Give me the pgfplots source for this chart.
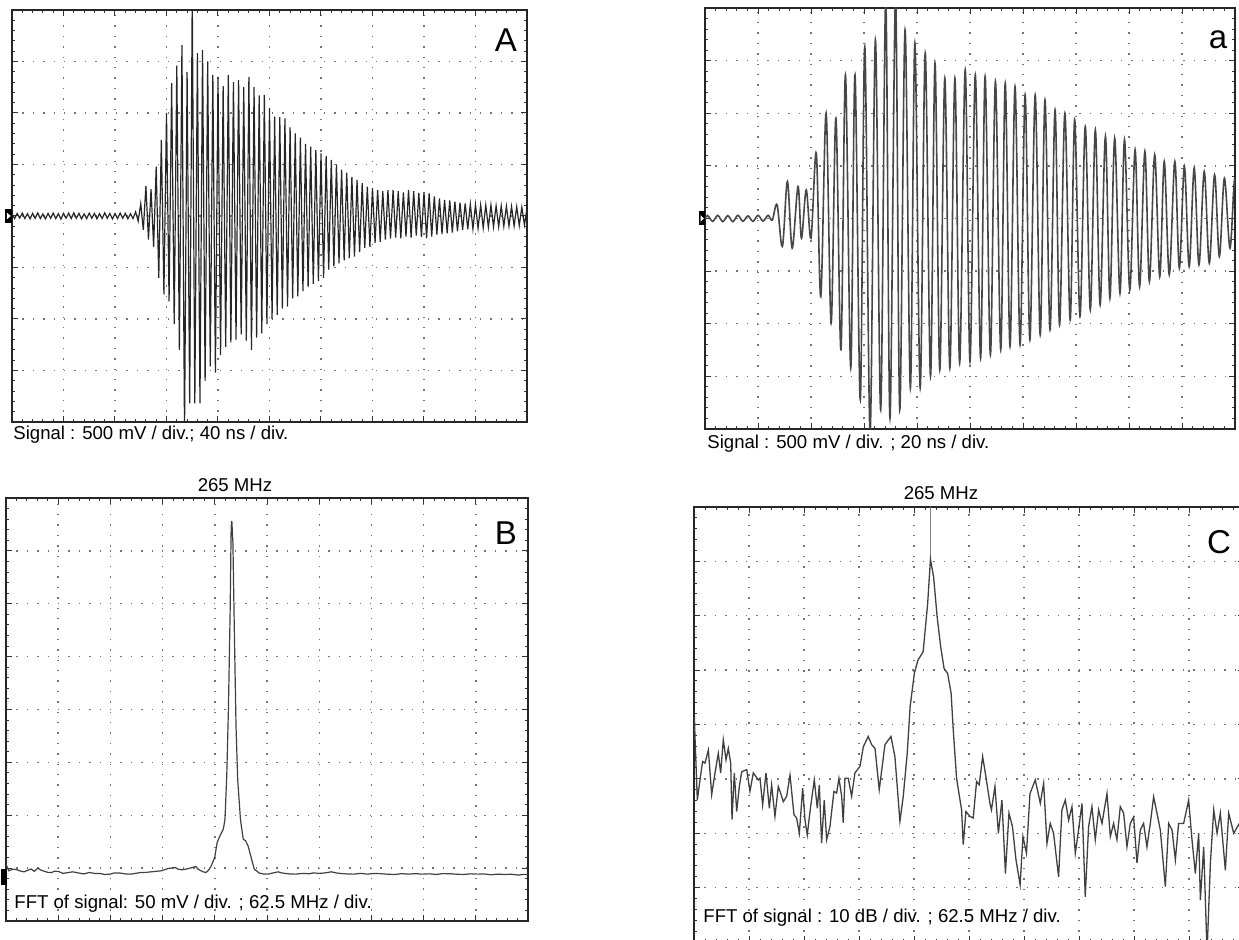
\documentclass[border=0pt]{standalone}
\usepackage{pgfplots}
\pgfplotsset{compat=1.18}
\usepackage{fontspec}
\setmainfont{Liberation Sans}
\pgfplotsset{
  osc/.style={
    scale only axis, anchor=north west,
    axis line style={black!85, line width=0.6pt},
    xticklabels={}, yticklabels={},
    xtick pos=both, ytick pos=both,
    tick align=inside,
    minor tick num=4,
    major tick length=3pt, minor tick length=1.7pt,
    every tick/.style={black!80, line width=0.5pt},
    grid=major,
    major grid style={black!55, line width=0.7pt, dash pattern=on 0.7pt off 4.5pt},
    clip mode=individual,
  },
}
\newcommand{\lab}{\fontsize{9.3pt}{11pt}\selectfont}
\newcommand{\biglab}{\fontsize{16.5pt}{19pt}\selectfont}
\begin{document}
\begin{tikzpicture}
\path[use as bounding box] (0,0) rectangle (619.5pt,-470pt);
\clip (0,0) rectangle (619.5pt,-470pt);

% ---------- Panel A ----------
\begin{axis}[osc, at={(6pt,-5pt)}, width=257.5pt, height=206pt,
  xmin=0, xmax=400, ymin=-2000, ymax=2000, xtick distance=40, ytick distance=500]
\addplot[black!85, line width=0.6pt] coordinates {
(0,20) (2,-25) (4,24) (6,-20) (8,28) (10,-24) (12,22) (14,-28) (16,25) (18,-22) (20,30) (22,-25) (24,20) (26,-28) (28,25) (30,-22) (32,28) (34,-25) (36,22) (38,-30) (40,25) (42,-22) (44,28) (46,-25) (48,30) (50,-22) (52,25) (54,-28) (56,20) (58,-25) (60,28) (62,-22) (64,25) (66,-28) (68,22) (70,-25) (72,30) (74,-22) (76,25) (78,-28) (80,22) (82,-25) (84,28) (86,-22) (88,25) (90,-28) (92,22) (94,-25)
(96,40) (98,-50) (100,120) (102,-135) (104,290) (106,-230) (108,260) (110,-300) (112,480) (114,-600) (116,740) (118,-760) (120,1000) (122,-830) (124,1290) (126,-1050) (128,1460) (130,-1300) (132,1660) (134,-2100) (136,1400) (138,-1820) (140,2150) (142,-1820) (144,1580) (146,-1820) (148,1610) (150,-1600) (152,1500) (154,-1460) (156,1370) (158,-1520) (160,1350) (162,-1350) (164,1260) (166,-1270) (168,1370) (170,-1230) (172,1300) (174,-1200) (176,1320) (178,-1150) (180,1250) (182,-1210) (184,1350) (186,-1300) (188,1250) (190,-1180) (192,1170) (194,-1140) (196,1175) (198,-1050) (200,1050) (202,-1000) (204,965) (206,-960) (208,960) (210,-900) (212,948) (214,-880) (216,860) (218,-800) (220,803) (222,-780) (224,760) (226,-730) (228,700) (230,-690) (232,673) (234,-660) (236,640) (238,-630) (240,608) (242,-600) (244,580) (246,-520) (248,544) (250,-490) (252,500) (254,-460) (256,450) (258,-430) (260,420) (262,-410) (264,380) (266,-395) (268,350) (270,-350) (272,320) (274,-310) (276,285) (278,-300) (280,270) (282,-260) (284,252) (286,-250) (288,240) (290,-230) (292,250) (294,-220) (296,252) (298,-210) (300,240) (302,-217) (304,230) (306,-200) (308,252) (310,-210) (312,240) (314,-190) (316,225) (318,-205) (320,230) (322,-217) (324,220) (326,-200) (328,190) (330,-180) (332,170) (334,-175) (336,155) (338,-168) (340,150) (342,-160) (344,140) (346,-150) (348,130) (350,-136) (352,123) (354,-130) (356,115) (358,-125) (360,110) (362,-120) (364,107) (366,-115) (368,105) (370,-110) (372,107) (374,-105) (376,100) (378,-104) (380,98) (382,-100) (384,95) (386,-98) (388,92) (390,-97) (392,90) (394,-92) (396,85) (398,-88) (400,74)
};
\fill[black] ([xshift=-3.5pt,yshift=-3.5pt]axis cs:0,0) rectangle ([xshift=0pt,yshift=3.5pt]axis cs:0,0);
\fill[white] ([xshift=-2.5pt,yshift=-1.6pt]axis cs:0,0) -- ([xshift=-0.6pt]axis cs:0,0) -- ([xshift=-2.5pt,yshift=1.6pt]axis cs:0,0) -- cycle;
\end{axis}
\node[anchor=center, inner sep=0] at (253pt,-20pt) {\biglab A};
\node[anchor=west, inner sep=0] at (6.5pt,-217.5pt) {\lab Signal : 500 mV / div.; 40 ns / div.};

% ---------- Panel a ----------
\begin{axis}[osc, at={(352.5pt,-4pt)}, width=265pt, height=210.5pt,
  xmin=0, xmax=200, ymin=-2000, ymax=2000, xtick distance=20, ytick distance=500]
\addplot[black!72, line width=0.8pt, smooth, tension=0.55] coordinates {
(0,0) (1.0,28) (2.9,-27) (4.8,30) (6.7,-30) (8.6,27) (10.5,-30) (12.4,30) (14.3,-27) (16.2,25) (18.1,-28) (20.0,30) (21.9,-25) (23.8,30) (25.4,-15) (27.2,130) (29.2,-266) (31.1,351) (32.9,-282) (35.1,304) (36.4,-187) (38.2,272) (40.0,-187) (42.0,620) (43.7,-741) (45.7,1000) (47.6,-994) (49.4,953) (51.3,-1247) (53.0,1364) (55.0,-1421) (56.6,1364) (58.6,-1722) (60.3,1633) (62.3,-2040) (64.3,1696) (66.3,-1817) (68.2,2080) (69.8,-1896) (71.9,2100) (73.5,-1817) (75.5,1791) (77.5,-1611) (79.2,1665) (81.2,-1611) (83.1,1570) (85.1,-1500) (86.8,1475) (88.6,-1437) (90.5,1332) (92.4,-1421) (94.3,1332) (96.1,-1374) (98.2,1412) (100.0,-1358) (102.0,1364) (104.0,-1326) (105.7,1348) (107.7,-1294) (109.6,1301) (111.6,-1247) (113.3,1285) (115.1,-1215) (117.0,1253) (118.9,-1200) (120.8,1174) (122.6,-1152) (124.6,1174) (126.5,-1105) (128.3,1127) (130.2,-1057) (132.1,1032) (133.8,-1010) (135.8,1000) (137.8,-962) (139.5,937) (141.5,-930) (143.5,874) (145.4,-867) (147.3,842) (149.1,-820) (151.1,779) (152.8,-756) (154.6,763) (156.6,-709) (158.3,747) (160.3,-677) (162.3,652) (164.0,-646) (166.0,636) (167.7,-598) (169.7,605) (171.6,-551) (173.3,541) (175.2,-535) (177.3,541) (179.0,-472) (180.9,494) (182.7,-456) (184.6,478) (186.4,-440) (188.4,446) (190.3,-424) (192.3,415) (194.1,-361) (196.0,383) (198.1,-282) (199.8,367) (201,100)
};
\fill[black] ([xshift=-3pt,yshift=-3.5pt]axis cs:0,0) rectangle ([xshift=0pt,yshift=3.5pt]axis cs:0,0);
\fill[white] ([xshift=-2.2pt,yshift=-1.6pt]axis cs:0,0) -- ([xshift=-0.5pt]axis cs:0,0) -- ([xshift=-2.2pt,yshift=1.6pt]axis cs:0,0) -- cycle;
\end{axis}
\node[anchor=center, inner sep=0] at (609pt,-20pt) {\biglab a};
\node[anchor=west, inner sep=0] at (353.5pt,-222pt) {\lab Signal : 500 mV / div. ; 20 ns / div.};

% ---------- Panel B ----------
\begin{axis}[osc, at={(3pt,-249pt)}, width=261pt, height=211.5pt,
  xmin=0, xmax=625, ymin=0, ymax=400, xtick distance=62.5, ytick distance=50]
\addplot[black!75, line width=0.6pt] coordinates {
(0,53.8) (3.3,47.5) (8,49) (13.6,48.4) (18,47) (21.8,46.5) (26,48) (30.0,49.1) (34,47) (38.2,50.0) (42,48) (46.4,46.9) (50,46) (54.7,45.9) (58,47) (62.9,46.9) (68,45) (75.2,45.9) (80,46.5) (87.5,45.3) (93,44.5) (99.9,45.9) (106,45) (112.2,45.0) (118,44) (124.5,44.3) (130,45.5) (136.9,45.3) (143,44.5) (149.2,44.3) (155,45) (161.5,45.9) (168,46) (173.9,46.5) (180,47) (186.2,47.5) (190,48.5) (194.4,49.7) (198,50) (202.6,50.6) (206,49) (210.8,48.4) (215,49) (219.1,49.7) (223,50.5) (227.3,51.6) (230,49) (233.4,47.5) (236,46.5) (239.6,45.9) (242.5,48) (245.8,52.2) (249.9,60.1) (252.8,74.2) (256.1,80.5) (260.2,86.8) (262.2,96.2) (264.3,137.1) (266.3,200.0) (268.4,294.4) (269.6,373.0) (270.4,378.3) (271.7,357.3) (273.3,278.6) (275.4,184.3) (277.4,134.0) (280.7,96.2) (284.0,77.4) (286.9,75.8) (289.8,71.1) (293.0,61.6) (297.2,49.1) (303.3,45.3) (308,44.5) (313.6,44.3) (320,45.5) (325.9,46.5) (330,45.5) (334.1,45.0) (340,44.5) (346.5,44.3) (355,45) (362.9,44.7) (368,45.5) (375.2,45.0) (382,45.5) (389.6,46.5) (395,45.5) (399.9,45.0) (408,44.5) (416.3,44.3) (425,45) (432.8,44.3) (441,45) (449.2,44.7) (457,44.2) (465.7,44.0) (474,44.8) (482.1,44.3) (490,44.8) (498.5,44.3) (507,44.6) (515.0,44.0) (523,44.8) (531.4,44.7) (540,44.2) (547.9,44.0) (556,44.6) (564.3,44.3) (572,44.5) (580.7,43.7) (589,44.3) (597.2,44.0) (605,44.2) (613.6,43.4) (619,44.1) (624.7,44.0)
};
\fill[black] ([xshift=-2.5pt,yshift=-4pt]axis cs:0,41.6) rectangle ([xshift=0.5pt,yshift=4pt]axis cs:0,41.6);
\end{axis}
\node[anchor=center, inner sep=0] at (117.5pt,-242.5pt) {\lab 265 MHz};
\node[anchor=center, inner sep=0] at (253pt,-266.5pt) {\biglab B};
\node[anchor=west, inner sep=0] at (7pt,-452pt) {\lab FFT of signal: 50 mV / div. ; 62.5 MHz / div.};

% ---------- Panel C ----------
\begin{axis}[osc, at={(347pt,-253.5pt)}, width=275pt, height=217.5pt,
  xmin=0, xmax=625, ymin=-80, ymax=0, xtick distance=62.5, ytick distance=10]
\addplot[black!50, line width=0.4pt] coordinates {(268.7,0) (268.7,-9.6)};
\addplot[black!75, line width=0.65pt] coordinates {
(0.5,-38.6) (1.1,-42.2) (3.8,-53.9) (6.8,-50.2) (9.8,-46.8) (12.5,-47.1) (16.3,-44.7) (20.1,-52.9) (23.9,-48.9) (27.6,-45.3) (30.3,-48.9) (33.3,-42.8) (36.4,-46.5) (39.0,-44.4) (41.7,-47.1) (43.2,-57.5) (45.8,-48.9) (48.5,-56.0) (51.5,-51.4) (54.2,-48.7) (59.9,-48.3) (63.6,-52.3) (67.4,-48.9) (73.1,-50.2) (75.0,-49.9) (78.0,-54.8) (81.8,-48.9) (85.6,-55.4) (88.2,-51.1) (92.0,-56.9) (95.8,-51.4) (99.6,-53.2) (101.5,-54.2) (105.3,-53.2) (109.1,-49.3) (113.6,-56.6) (116.6,-57.2) (119.7,-60.0) (123.5,-51.7) (126.1,-57.5) (128.7,-60.3) (132.5,-55.1) (136.7,-50.2) (140.1,-55.4) (142.4,-51.1) (145.0,-61.8) (148.0,-53.9) (150.7,-61.2) (154.5,-58.8) (159.0,-52.3) (162.1,-52.6) (164.7,-49.9) (167.8,-53.2) (169.6,-58.1) (171.5,-49.9) (175.3,-49.9) (179.1,-53.2) (182.9,-48.9) (188.6,-47.7) (192.4,-44.1) (198.0,-42.2) (201.9,-43.7) (205.7,-44.4) (210.5,-52.0) (217.0,-43.7) (223.8,-42.2) (228.3,-45.9) (234.0,-57.8) (237.8,-53.2) (242.3,-45.3) (245.6,-36.7) (250.4,-30.6) (254.4,-28.2) (260.4,-26.6) (265.5,-17.8) (268.7,-9.6) (272.3,-12.9) (276.3,-20.2) (280.3,-25.7) (284.2,-29.7) (288.2,-30.6) (292.2,-34.3) (294.6,-41.0) (298.4,-49.9) (301.0,-52.6) (304.1,-55.7) (305.9,-62.1) (309.0,-56.0) (313.5,-56.9) (317.3,-57.2) (321.1,-50.5) (324.1,-51.1) (328.0,-45.9) (331.7,-49.6) (336.3,-54.5) (338.0,-55.7) (342.0,-51.4) (345.9,-60.0) (349.9,-53.9) (353.9,-67.4) (357.9,-56.3) (361.9,-58.8) (365.9,-64.9) (370.6,-69.5) (373.8,-60.6) (377.8,-63.7) (381.8,-52.7) (387.8,-50.2) (393.5,-54.5) (397.3,-50.8) (401.1,-61.9) (404.8,-58.2) (408.6,-60.0) (414.3,-68.0) (418.1,-55.7) (421.9,-53.9) (425.7,-57.6) (429.5,-55.1) (433.3,-63.7) (437.0,-59.4) (440.9,-54.5) (444.6,-71.7) (448.4,-58.8) (452.2,-55.1) (456.0,-61.2) (459.8,-55.7) (463.6,-58.2) (469.3,-52.7) (473.1,-60.6) (476.8,-58.2) (480.6,-61.2) (484.4,-55.1) (488.2,-56.3) (492.0,-62.5) (495.8,-58.2) (499.6,-57.0) (503.4,-65.5) (507.2,-59.4) (510.9,-58.2) (514.7,-62.5) (518.5,-58.2) (522.3,-53.3) (526.1,-56.3) (529.9,-59.4) (535.6,-69.8) (539.4,-58.2) (543.2,-59.4) (547.0,-64.9) (550.7,-58.2) (556.4,-58.2) (562.1,-53.9) (565.9,-61.2) (569.7,-67.4) (573.5,-60.0) (575.4,-72.3) (579.2,-62.5) (583.0,-82.0) (586.8,-65.5) (590.6,-55.7) (594.4,-60.0) (598.1,-56.3) (603.8,-66.8) (607.6,-56.3) (613.3,-60.0) (619.7,-58.2) (624.6,-57.6)
};
\end{axis}
\node[anchor=center, inner sep=0] at (470.5pt,-246.5pt) {\lab 265 MHz};
\node[anchor=center, inner sep=0] at (609.5pt,-271pt) {\biglab C};
\node[anchor=west, inner sep=0] at (351.5pt,-459pt) {\lab FFT of signal : 10 dB / div. ; 62.5 MHz / div.};
\end{tikzpicture}
\end{document}
